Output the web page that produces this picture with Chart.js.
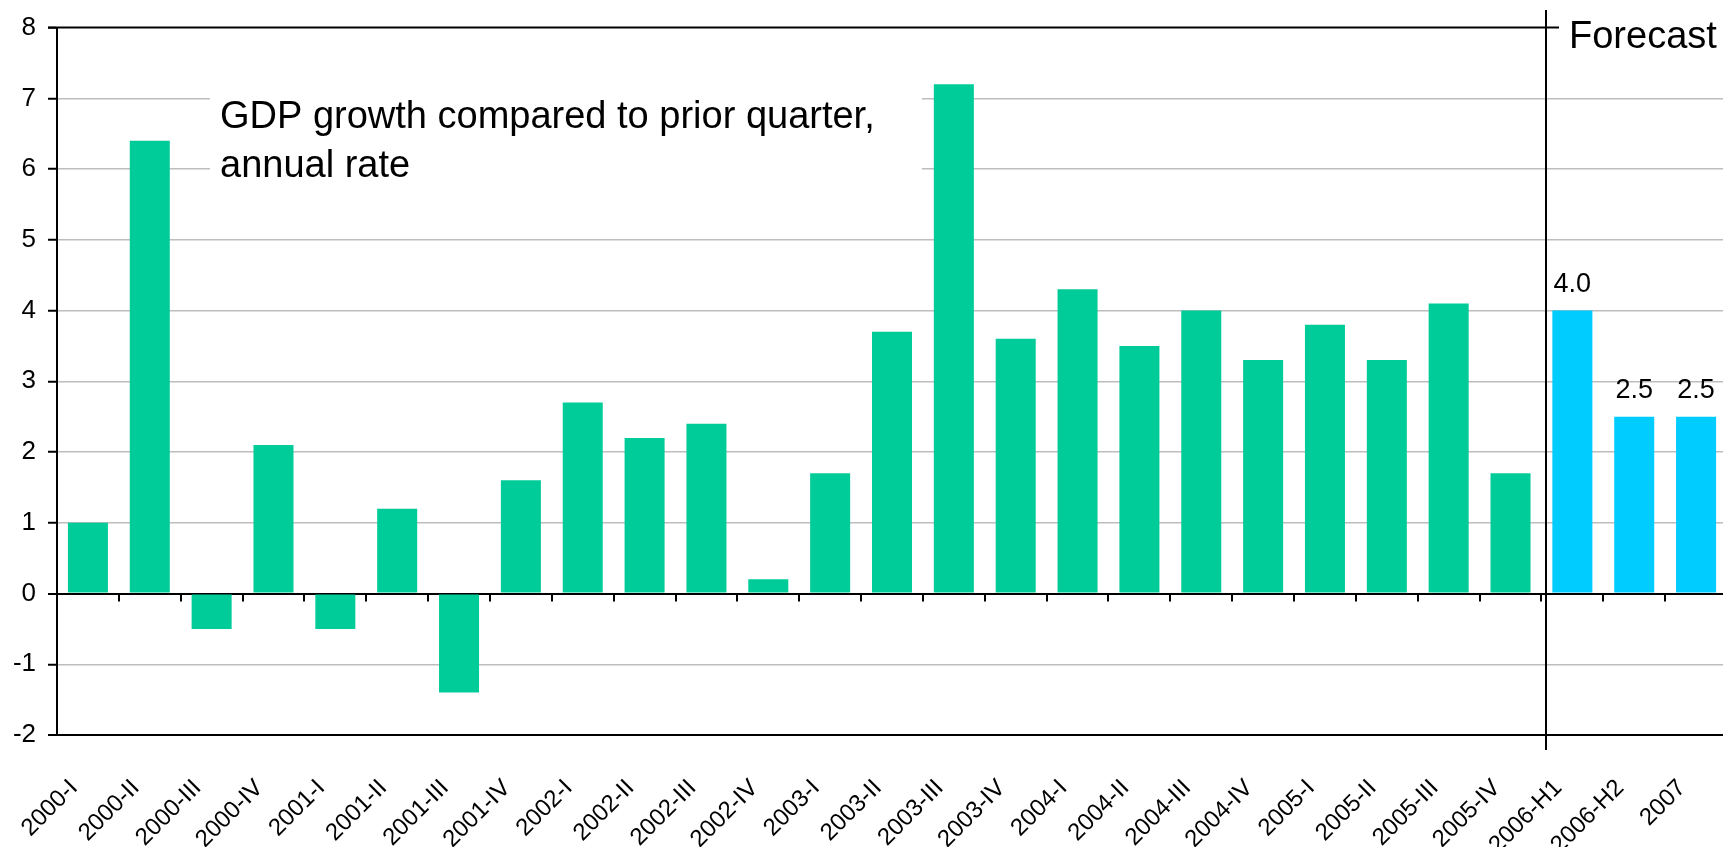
<!DOCTYPE html>
<html>
<head>
<meta charset="utf-8">
<script src="https://cdn.jsdelivr.net/npm/chart.js@4.4.0/dist/chart.umd.min.js"></script>
<style>
  html, body { margin: 0; padding: 0; background: #fff; overflow: hidden; }
  #wrap { width: 1727px; height: 847px; }
</style>
</head>
<body>
<div id="wrap"><canvas id="grafico"></canvas></div>
<script>
// quarterly history
const histLabels = ['2000-I', '2000-II', '2000-III', '2000-IV', '2001-I', '2001-II', '2001-III', '2001-IV',
    '2002-I', '2002-II', '2002-III', '2002-IV', '2003-I', '2003-II', '2003-III', '2003-IV',
    '2004-I', '2004-II', '2004-III', '2004-IV', '2005-I', '2005-II', '2005-III', '2005-IV'];
const histValues = [1.0, 6.4, -0.5, 2.1, -0.5, 1.2, -1.4, 1.6,
    2.7, 2.2, 2.4, 0.2, 1.7, 3.7, 7.2, 3.6,
    4.3, 3.5, 4.0, 3.3, 3.8, 3.3, 4.1, 1.7];

// forecast
const forecastLabels = ['2006-H1', '2006-H2', '2007'];
const forecastValues = [4.0, 2.5, 2.5];

const yTicks = [-2, -1, 0, 1, 2, 3, 4, 5, 6, 7, 8];
const titleLines = ['GDP growth compared to prior quarter,', 'annual rate'];
const forecastText = 'Forecast';

const labels = histLabels.concat(forecastLabels);
const values = histValues.concat(forecastValues);
const colors = histValues.map(() => '#00cc99').concat(forecastValues.map(() => '#00ccff'));
const nHist = histLabels.length;

const FONT = "'Liberation Sans', Arial, sans-serif";

function forecastX(chart) {
    const x = chart.scales.x;
    return Math.round((x.getPixelForTick(nHist - 1) + x.getPixelForTick(nHist)) / 2) + 5;
}

const extras = {
    id: 'extras',
    beforeDatasetsDraw(chart) {
        const ctx = chart.ctx;
        // white text box over the grid
        ctx.save();
        ctx.fillStyle = '#fff';
        ctx.fillRect(210, 80, 712, 115);
        ctx.fillStyle = '#000';
        ctx.font = '38px ' + FONT;
        ctx.textBaseline = 'alphabetic';
        ctx.fillText(titleLines[0], 220, 128);
        ctx.fillText(titleLines[1], 220, 177);
        ctx.restore();
    },
    afterDraw(chart) {
        const ctx = chart.ctx;
        const area = chart.chartArea;
        const x = chart.scales.x;
        const y = chart.scales.y;
        const fx = forecastX(chart);
        const y0 = y.getPixelForValue(0);
        ctx.save();
        ctx.strokeStyle = '#000';
        ctx.lineWidth = 2;
        // category ticks on the zero line
        ctx.beginPath();
        for (let i = 1; i < labels.length; i++) {
            const bx = Math.round((x.getPixelForTick(i - 1) + x.getPixelForTick(i)) / 2);
            ctx.moveTo(bx, y0);
            ctx.lineTo(bx, y0 + 8);
        }
        ctx.stroke();
        // top line
        ctx.beginPath();
        ctx.moveTo(area.left - 9, area.top);
        ctx.lineTo(fx + 13, area.top);
        ctx.stroke();
        // forecast divider
        ctx.beginPath();
        ctx.moveTo(fx, 10);
        ctx.lineTo(fx, area.bottom + 15);
        ctx.stroke();
        // forecast caption
        ctx.fillStyle = '#000';
        ctx.font = '38px ' + FONT;
        ctx.textBaseline = 'alphabetic';
        ctx.fillText(forecastText, fx + 23, 48);
        // value labels on forecast bars
        ctx.font = '27px ' + FONT;
        ctx.textAlign = 'center';
        const meta = chart.getDatasetMeta(0);
        for (let i = nHist; i < labels.length; i++) {
            const bar = meta.data[i];
            ctx.fillText(values[i].toFixed(1), bar.x, bar.y - 19);
        }
        ctx.restore();
    }
};

new Chart(document.getElementById('grafico'), {
    type: 'bar',
    data: {
        labels: labels,
        datasets: [{
            data: values,
            backgroundColor: colors,
            borderWidth: 0,
            barPercentage: 0.647,
            categoryPercentage: 1.0
        }]
    },
    options: {
        responsive: true,
        maintainAspectRatio: false,
        animation: false,
        layout: { padding: { top: 22, right: 0, bottom: 0, left: 0 } },
        plugins: {
            legend: { display: false },
            tooltip: { enabled: false }
        },
        scales: {
            x: {
                grid: { display: false, drawTicks: false },
                border: { display: true, color: '#000', width: 2 },
                ticks: {
                    color: '#000',
                    font: { family: FONT, size: 24 },
                    minRotation: 45,
                    maxRotation: 45,
                    autoSkip: false,
                    padding: 39,
                    labelOffset: -14
                },
                afterFit: function (scale) {
                    scale.height = 112;
                    scale.paddingLeft = 0;
                    scale.paddingRight = 0;
                }
            },
            y: {
                min: -2,
                max: 8,
                afterBuildTicks: function (scale) {
                    scale.ticks = yTicks.map(v => ({ value: v }));
                },
                grid: {
                    color: function (c) {
                        const v = c.tick.value;
                        if (v === 8) return 'rgba(0,0,0,0)';
                        if (v === 0 || v === -2) return '#000';
                        return '#bdbdbd';
                    },
                    lineWidth: function (c) {
                        const v = c.tick.value;
                        return (v === 0 || v === -2) ? 2 : 1.5;
                    },
                    drawTicks: true,
                    tickLength: 9,
                    tickColor: '#000',
                    tickWidth: 2
                },
                border: { display: true, color: '#000', width: 2 },
                ticks: {
                    color: '#000',
                    font: { family: FONT, size: 26 },
                    padding: 12
                },
                afterFit: function (scale) { scale.width = 57; }
            }
        }
    },
    plugins: [extras]
});
</script>
</body>
</html>
